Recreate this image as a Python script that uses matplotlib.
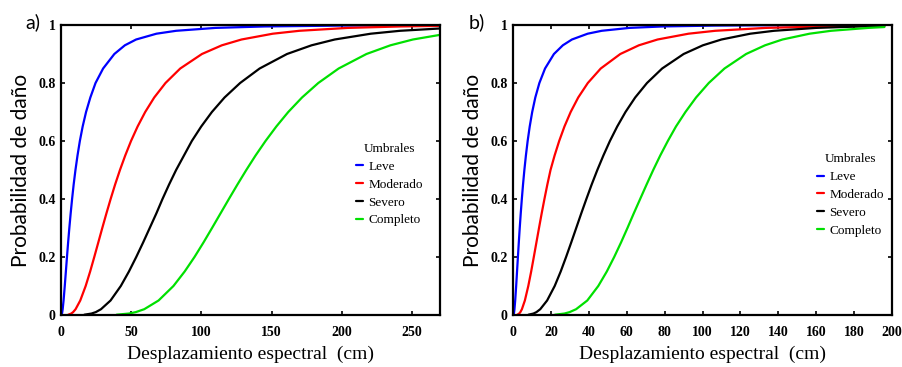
import matplotlib
matplotlib.use("Agg")
import matplotlib.pyplot as plt

# ---------------- data ----------------
damage_states = ["Leve", "Moderado", "Severo", "Completo"]
colors = ["#0000ff", "#ff0000", "#000000", "#00e000"]

# probability levels at which the curve abscissas were read
p_levels = [0.001, 0.005, 0.01, 0.02, 0.05, 0.1, 0.15, 0.2, 0.25, 0.3, 0.35, 0.4, 0.45, 0.5,
            0.55, 0.6, 0.65, 0.7, 0.75, 0.8, 0.85, 0.9, 0.93, 0.95, 0.97, 0.98, 0.99, 0.995,
            0.998, 0.999]

# Panel a)  (displacement in cm at each probability level, then the last point at x = 270)
a_leve_x = [0.40, 0.69, 0.90, 1.19, 1.83, 2.68, 3.47, 4.26, 5.07, 5.94, 6.88, 7.90, 9.02, 10.3,
            11.76, 13.43, 15.43, 17.85, 20.9, 24.6, 30.0, 38.0, 45.5, 53.5, 68.0, 82.0, 110.0,
            145, 200, 250, 270]
a_leve_y = p_levels + [0.9993]

a_mod_x = [5.14, 7.28, 8.64, 10.39, 13.72, 17.57, 20.77, 23.70, 26.56, 29.41, 32.33, 35.36,
           38.55, 42, 45.76, 49.88, 54.57, 59.98, 66.41, 74.44, 84.95, 100.4, 114.6, 128.6,
           150.9, 169.8, 204.3, 242.2, 270]
a_mod_y = p_levels[:28] + [0.997]

a_sev_x = [16.6, 21.7, 24.8, 28.5, 35.3, 42.6, 48.4, 53.6, 58.5, 63.2, 67.9, 72.3, 77.0, 82,
           87.6, 93.2, 99.9, 107.5, 116.5, 127.6, 141.5, 161.0, 178.5, 195.0, 220.7, 241.5, 270]
a_sev_y = p_levels[:26] + [0.988]

a_com_x = [39.6, 48.3, 53.3, 59.3, 69.5, 80.1, 88.1, 95.1, 101.5, 107.6, 113.6, 119.6, 125.7,
           132, 138.6, 145.7, 153.4, 161.9, 171.7, 183.3, 197.8, 217.6, 234.7, 250.7, 270]
a_com_y = p_levels[:24] + [0.966]

# Panel b)  (last point at x = 196)
b_leve_x = [0.27, 0.46, 0.59, 0.77, 1.16, 1.67, 2.13, 2.59, 3.06, 3.55, 4.08, 4.66, 5.29, 6.0,
            6.81, 7.73, 8.82, 10.13, 11.77, 13.92, 16.91, 21.6, 26.3, 31.1, 39.4, 46.8, 61.4,
            78.9, 106.7, 131.9, 196]
b_leve_y = p_levels + [0.9998]

b_mod_x = [2.28, 3.26, 3.89, 4.70, 6.26, 8.07, 9.59, 10.98, 12.35, 13.72, 15.12, 16.59, 18.13,
           19.8, 21.95, 24.37, 27.15, 30.43, 34.41, 39.48, 46.30, 56.63, 66.42, 76.29, 92.6,
           106.7, 133.4, 163.7, 196]
b_mod_y = p_levels[:28] + [0.9974]

b_sev_x = [8.13, 10.79, 12.38, 14.38, 18.0, 22.0, 25.17, 28.01, 30.72, 33.36, 36.0, 38.72,
           41.52, 44.5, 47.70, 51.14, 55.0, 59.36, 64.47, 70.71, 78.7, 90.05, 100.2, 110.0,
           125.2, 137.7, 159.9, 183.5, 196]
b_sev_y = p_levels[:28] + [0.9965]

b_com_x = [22.1, 27.1, 29.9, 33.3, 39.2, 45.0, 49.5, 53.4, 57.0, 60.4, 63.7, 67.1, 70.5, 74,
           77.7, 81.7, 86.0, 91.0, 96.6, 103.3, 111.6, 123.0, 133.0, 142.2, 156.5, 167.8,
           187.5, 196]
b_com_y = p_levels[:27] + [0.993]

y_ticks = [0, 0.2, 0.4, 0.6, 0.8, 1]
y_tick_labels = ["0", "0.2", "0.4", "0.6", "0.8", "1"]
a_x_ticks = [0, 50, 100, 150, 200, 250]
b_x_ticks = [0, 20, 40, 60, 80, 100, 120, 140, 160, 180, 200]

panels = [
    dict(label="a)", xlim=(0, 270), xticks=a_x_ticks,
         series=[(a_leve_x, a_leve_y), (a_mod_x, a_mod_y), (a_sev_x, a_sev_y), (a_com_x, a_com_y)],
         rect=[61 / 902, 1 - 315 / 367, 379 / 902, 290 / 367], leg=(0.762, 0.615), lab_x=-0.055),
    dict(label="b)", xlim=(0, 200), xticks=b_x_ticks,
         series=[(b_leve_x, b_leve_y), (b_mod_x, b_mod_y), (b_sev_x, b_sev_y), (b_com_x, b_com_y)],
         rect=[513 / 902, 1 - 315 / 367, 379 / 902, 290 / 367], leg=(0.786, 0.58), lab_x=-0.074),
]

SERIF = ["Liberation Serif", "DejaVu Serif"]
SANS = ["Lato", "DejaVu Sans"]

fig = plt.figure(figsize=(9.02, 3.67), dpi=100)
for p in panels:
    ax = fig.add_axes(p["rect"])
    for (xs, ys), name, c in zip(p["series"], damage_states, colors):
        ax.plot(xs, ys, color=c, lw=1.6, label=name, solid_capstyle="round")
    ax.set_xlim(*p["xlim"])
    ax.set_ylim(0, 1)
    ax.set_xticks(p["xticks"])
    ax.set_xticklabels([str(t) for t in p["xticks"]], family=SERIF, fontsize=10, fontweight="bold")
    ax.set_yticks(y_ticks)
    ax.set_yticklabels(y_tick_labels, family=SERIF, fontsize=10, fontweight="bold")
    ax.tick_params(direction="in", length=3, width=1.2, top=True, right=True)
    ax.tick_params(axis="x", pad=8)
    ax.tick_params(axis="y", pad=4)
    for s in ax.spines.values():
        s.set_linewidth(1.6)
    ax.set_xlabel("Desplazamiento espectral  (cm)", family=SERIF, fontsize=14, labelpad=5)
    ax.set_ylabel("Probabilidad de daño", family=SANS, fontsize=15, labelpad=5)
    ax.legend(title="Umbrales", loc="upper left", bbox_to_anchor=p["leg"], frameon=False,
              handlelength=0.5, handletextpad=0.4, labelspacing=0.42, borderpad=0,
              prop=dict(family=SERIF, size=9.5), title_fontproperties=dict(family=SERIF, size=9.5))
    ax.text(p["lab_x"], 1.01, p["label"], transform=ax.transAxes, family=SANS, fontsize=14,
            ha="right", va="center")

fig.savefig("out.png", dpi=100)
